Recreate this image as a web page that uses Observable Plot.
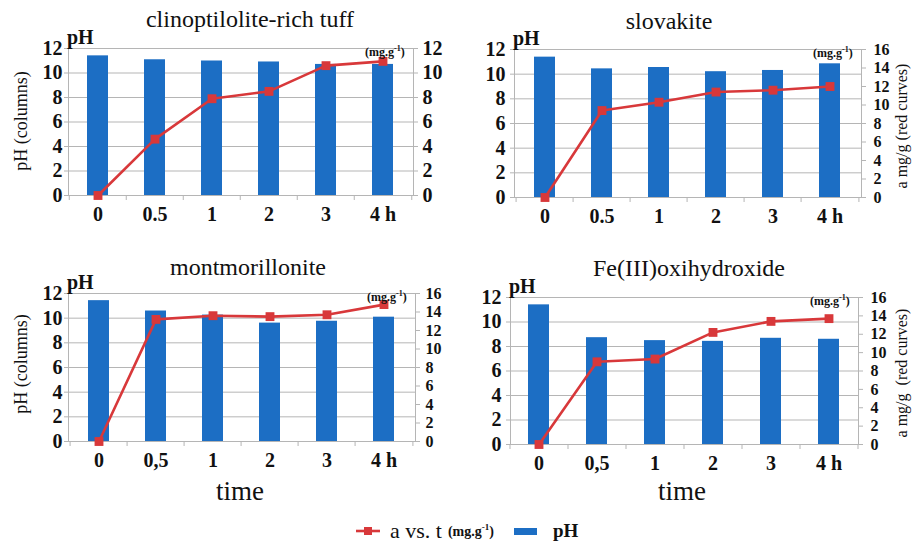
<!DOCTYPE html>
<html><head><meta charset="utf-8">
<script src="https://cdn.jsdelivr.net/npm/d3@7"></script>
<script src="https://cdn.jsdelivr.net/npm/@observablehq/plot@0.6"></script>
<style>
body{margin:0;background:#fff;}
#root{position:relative;width:912px;height:546px;color:#111;overflow:hidden;}
#root, #root *, svg text{font-family:"Liberation Serif", "Times New Roman", serif !important;}
.abs{position:absolute;white-space:nowrap;}
.title{font-size:24px;transform:translateX(-50%);}
.ph{font-size:20px;font-weight:bold;}
.unit{font-size:12px;font-weight:bold;}
.vt{font-size:18px;line-height:1;transform:translate(-50%,-50%) rotate(-90deg);}
.vtr{font-size:16px;}
.time{font-size:27px;transform:translateX(-50%);}
</style></head>
<body><div id="root"></div>
<script>
// categories (time)
const timesDot = ["0", "0.5", "1", "2", "3", "4 h"];
const timesComma = ["0", "0,5", "1", "2", "3", "4 h"];
// pH (columns)
const phTuff = [11.4, 11.08, 10.98, 10.9, 10.7, 10.7];
const phSlov = [11.38, 10.43, 10.54, 10.2, 10.3, 10.84];
const phMont = [11.42, 10.58, 10.25, 9.6, 9.75, 10.08];
const phFe = [11.4, 8.72, 8.48, 8.42, 8.67, 8.59];
// a (mg/g), red curves
const aTuff = [0, 4.6, 7.9, 8.5, 10.6, 10.95];
const aSlov = [0, 9.4, 10.3, 11.4, 11.6, 12.0];
const aMont = [0, 13.2, 13.6, 13.5, 13.7, 14.8];
const aFe = [0, 9.0, 9.3, 12.2, 13.4, 13.7];

const root = document.getElementById("root");
const BLUE = "#1c6ec4", RED = "#d8383a", GRID = "#b5b5b5";
const FONT = "Liberation Serif";

function addText(txt, cls, x, y, html) {
  const d = document.createElement("div");
  d.className = "abs " + cls;
  if (html) d.innerHTML = txt; else d.textContent = txt;
  d.style.left = x + "px"; d.style.top = y + "px";
  root.appendChild(d);
  return d;
}

function panel(p) {
  const rows = p.labels.map((t, i) => ({t, ph: p.ph[i], a: p.a[i]}));
  const k = 12 / p.aMax;
  const W = 456, H = 230;
  const step = (W - p.ml - p.mr) / p.labels.length;
  const tickDrop = 5 * 12 / (H - p.mt - p.mb);
  const plot = Plot.plot({
    width: W, height: H,
    marginLeft: p.ml, marginRight: p.mr, marginTop: p.mt, marginBottom: p.mb,
    style: {fontFamily: FONT, fontSize: "20px", fontWeight: "bold", color: "#111", background: "transparent", overflow: "visible"},
    x: {domain: p.labels, paddingInner: 0.63, paddingOuter: 0.315, axis: null, label: null},
    y: {domain: [0, 12], axis: null, label: null},
    marks: [
      Plot.gridY(d3.range(0, 13, 2), {stroke: GRID, strokeOpacity: 1, strokeWidth: 1}),
      Plot.frame({stroke: GRID, strokeWidth: 1}),
      Plot.ruleX(p.labels, {x: d => d, dx: -step / 2, y1: 0, y2: -tickDrop, stroke: GRID}),
      Plot.ruleX(p.labels.slice(-1), {x: d => d, dx: step / 2, y1: 0, y2: -tickDrop, stroke: GRID}),
      Plot.barY(rows, {x: "t", y: "ph", fill: BLUE}),
      Plot.lineY(rows, {x: "t", y: d => d.a * k, stroke: RED, strokeWidth: 2.6}),
      Plot.dot(rows, {x: "t", y: d => d.a * k, symbol: "square", r: 5, fill: RED}),
      Plot.axisY(d3.range(0, 13, 2), {anchor: "left", label: null, tickSize: 4, tickPadding: p.lpad, stroke: GRID, fontSize: 20, fontFamily: FONT, fontWeight: "bold"}),
      Plot.axisY(d3.range(0, p.aMax + 1, 2).map(v => v * k), {anchor: "right", label: null, tickSize: 4, tickPadding: p.rpad, stroke: GRID, fontSize: p.aMax > 12 ? 16 : 20, fontFamily: FONT, fontWeight: "bold", tickFormat: d => String(Math.round(d / k))}),
      Plot.axisX({anchor: "bottom", label: null, tickSize: 0, tickPadding: 11, fontSize: 20, fontFamily: FONT, fontWeight: "bold"})
    ]
  });
  plot.style.position = "absolute";
  plot.style.left = p.left + "px";
  plot.style.top = p.top + "px";
  root.appendChild(plot);
  const x0 = p.left + p.ml, x1 = p.left + W - p.mr, y0 = p.top + p.mt;
  addText(p.title, "title", p.tx, p.ty);
  addText("pH", "ph", x0 - 1, y0 - 22);
  const u = addText("(mg.g<sup style=\"font-size:8px\">-1</sup>)", "unit", 0, y0 - 4, true);
  u.style.left = (x1 - 48) + "px";
}

panel({title: "clinoptilolite-rich tuff", ph: phTuff, a: aTuff, aMax: 12, labels: timesDot,
  left: 0, top: 0, ml: 68, mr: 43, mt: 48, mb: 35, tx: 250, ty: 6, lpad: 2, rpad: 5});
panel({title: "slovakite", ph: phSlov, a: aSlov, aMax: 16, labels: timesDot,
  left: 456, top: 0, ml: 58, mr: 51, mt: 49, mb: 33, tx: 669, ty: 8, lpad: 5, rpad: 8});
panel({title: "montmorillonite", ph: phMont, a: aMont, aMax: 16, labels: timesComma,
  left: 0, top: 250, ml: 68, mr: 41, mt: 43, mb: 39, tx: 248, ty: 254, lpad: 2, rpad: 6});
panel({title: "Fe(III)oxihydroxide", ph: phFe, a: aFe, aMax: 16, labels: timesComma,
  left: 456, top: 250, ml: 54, mr: 54, mt: 47, mb: 36, tx: 689, ty: 255, lpad: 5, rpad: 8});

addText("pH (columns)", "vt", 21, 121);
addText("pH (columns)", "vt", 21, 364);
addText("a mg/g (red curves)", "vt vtr", 902, 126);
addText("a mg/g&nbsp;&nbsp;(red curves)", "vt vtr", 902, 373, true);
addText("time", "time", 240, 476);
addText("time", "time", 682, 476);

// legend
const lg = document.createElement("div");
lg.className = "abs";
lg.style.left = "355px"; lg.style.top = "518px";
lg.style.display = "flex"; lg.style.alignItems = "center";
lg.innerHTML =
  '<svg width="26" height="12"><line x1="1" y1="6" x2="25" y2="6" stroke="' + RED + '" stroke-width="2.6"/><rect x="9" y="2" width="8" height="8" fill="' + RED + '"/></svg>' +
  '<span style="font-size:22px;margin-left:9px;">a vs. t</span>' +
  '<span style="font-size:14px;font-weight:bold;margin-left:6px;">(mg.g<sup style="font-size:9px">-1</sup>)</span>' +
  '<span style="display:inline-block;width:23px;height:7px;background:' + BLUE + ';margin-left:20px;"></span>' +
  '<span style="font-size:19px;font-weight:bold;margin-left:16px;">pH</span>';
root.appendChild(lg);
</script></body></html>
